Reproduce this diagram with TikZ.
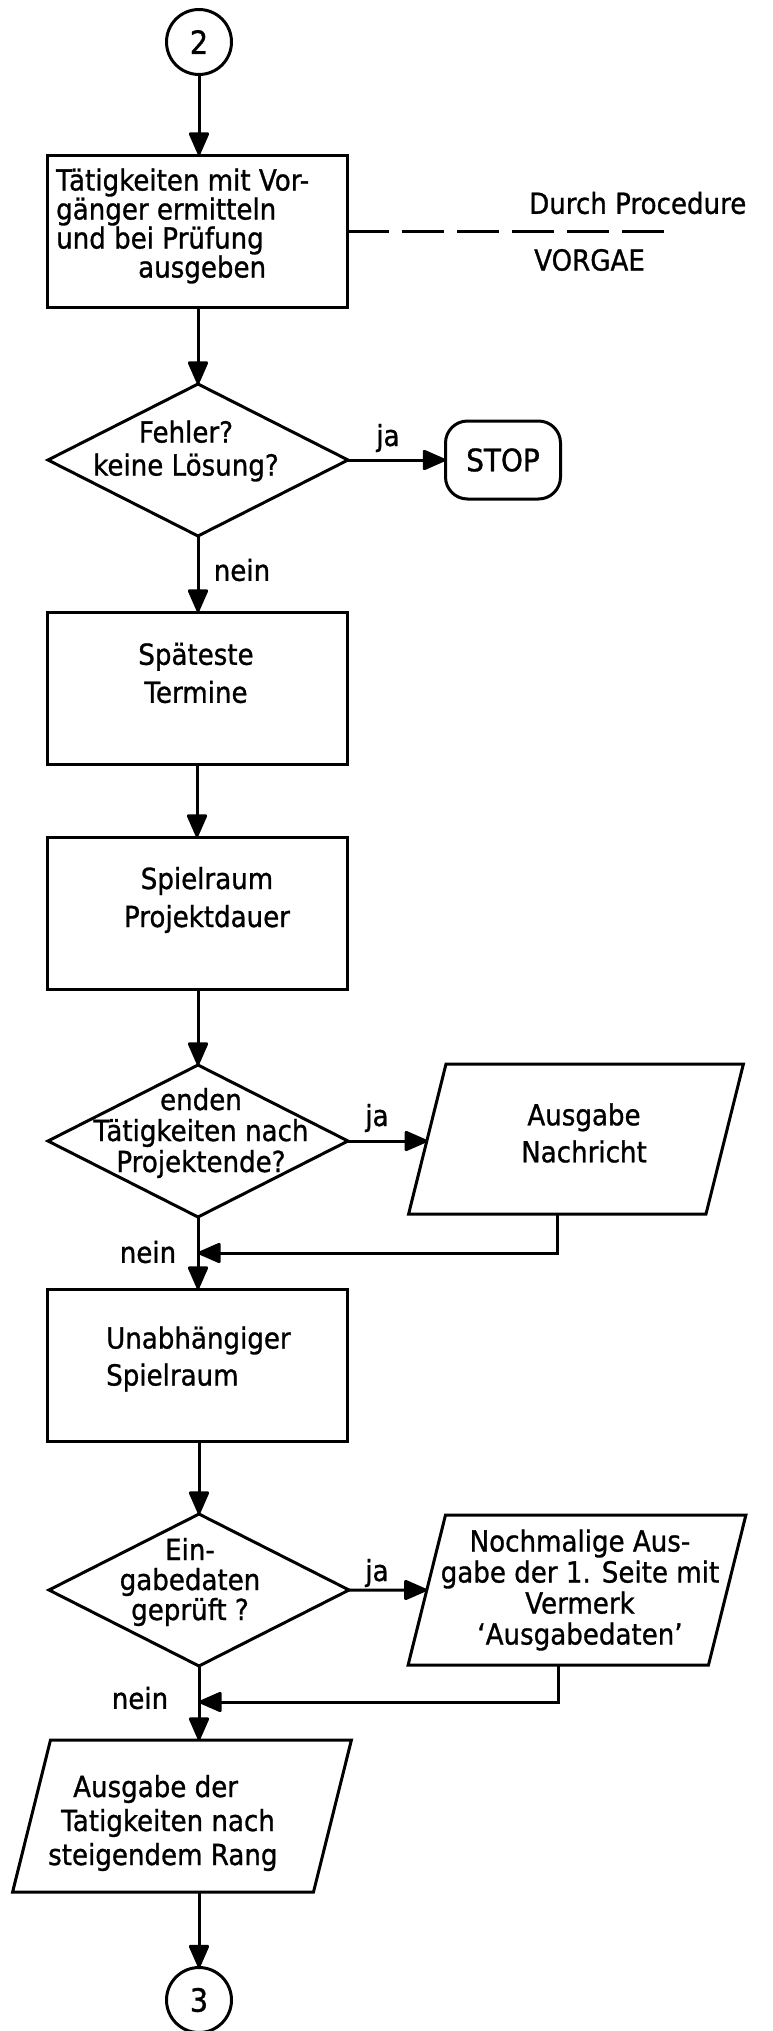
\documentclass[tikz,border=0pt]{standalone}
\usepackage{fontspec}
\setmainfont{DejaVu Sans}[FakeStretch=0.9,FakeBold=1]
\usetikzlibrary{shapes.geometric,arrows.meta}
\newcommand{\iobody}[2]{\rule{#1}{0pt}\rule{0pt}{#2}}
\tikzset{
  lw/.style={line width=3pt},
  shapebase/.style={draw, lw, inner sep=0pt, outer sep=0pt},
  procbox/.style={shapebase, rectangle, minimum width=300pt, minimum height=152pt},
  decision/.style={shapebase, diamond, minimum width=300pt, minimum height=152pt},
  iobox/.style={shapebase, trapezium, trapezium left angle=76, trapezium right angle=104},
  connector/.style={shapebase, circle, minimum size=65pt, font=\fontsize{32}{32}\selectfont},
  terminal/.style={shapebase, rectangle, rounded corners=22pt, minimum width=115pt, minimum height=78pt, font=\fontsize{31}{31}\selectfont},
  txt/.style={inner sep=0pt, align=center},
  fs/.style={font=\fontsize{29}{#1}\selectfont},
  arr/.style={lw, -{Triangle[length=25pt,width=21pt,round]}},
}
\begin{document}
\begin{tikzpicture}[x=1pt,y=-1pt]
\useasboundingbox (0,0) rectangle (772,2031);

% shapes
\node[connector] (c2) at (199,42) {2};
\node[procbox] (b1) at (197,231) {};
\node[decision] (d1) at (198,460) {};
\node[terminal] (stop) at (503,460) {STOP};
\node[procbox] (b2) at (197,688) {};
\node[procbox] (b3) at (197,913) {};
\node[decision] (d2) at (198,1141) {};
\node[iobox] (p1) at (576,1139) {\iobody{260pt}{150pt}};
\node[procbox] (b4) at (197,1365) {};
\node[decision] (d3) at (199,1590) {};
\node[iobox] (p2) at (577,1590) {\iobody{263pt}{150pt}};
\node[iobox] (p3) at (182,1816) {\iobody{263pt}{152pt}};
\node[connector] (c3) at (199,2000) {3};

% texts inside shapes
\node[txt, fs=29, anchor=west, align=left] (t1) at (56,226)
  {Tätigkeiten mit Vor-\\gänger ermitteln\\und bei Prüfung\\\hspace*{82pt}ausgeben};
\node[txt, fs=38] (t2) at (196,673) {Späteste\\Termine};
\node[txt, fs=38] (t3) at (207,900) {Spielraum\\Projektdauer};
\node[txt, fs=37, anchor=west, align=left] (t4) at (106,1359) {Unabhängiger\\Spielraum};
\node[txt, fs=33] (t5) at (186,451) {Fehler?\\keine Lösung?};
\node[txt, fs=31] (t6) at (201,1133) {enden\\Tätigkeiten nach\\Projektende?};
\node[txt, fs=30] (t7) at (190,1582) {Ein-\\gabedaten\hspace*{40pt}\\geprüft ?};
\node[txt, fs=37] (t8) at (584,1133) {Ausgabe\\Nachricht};
\node[txt, fs=31] (t9) at (580,1590) {Nochmalige Aus-\\gabe der 1. Seite mit\\Vermerk\\‘Ausgabedaten’};
\node[txt, fs=34, anchor=west, align=left] (t10) at (48,1823)
  {\hspace*{25pt}Ausgabe der\\\hspace*{13pt}Tatigkeiten nach\\steigendem Rang};

% side note
\coordinate (dend) at (667,231);
\node[txt, fs=30, anchor=west] (note1) at (529,203) {Durch Procedure};
\node[txt, fs=30, anchor=west] (note2) at (534,260) {VORGAE};

% labels
\node[txt, fs=30] (ja1) at (388,438) {ja};
\node[txt, fs=30] (ja2) at (377,1118) {ja};
\node[txt, fs=30] (ja3) at (377,1573) {ja};
\node[txt, fs=30] (nein1) at (242,570) {nein};
\node[txt, fs=30] (nein2) at (148,1252) {nein};
\node[txt, fs=30] (nein3) at (140,1698) {nein};

% join points
\coordinate (j1) at (198,1253);
\coordinate (j2) at (199,1702);

% connectors
\draw[arr] (c2) -- (c2 |- b1.north);
\draw[lw, dash pattern=on 42pt off 13pt] (b1.east) -- (dend);
\draw[arr] (b1.south -| d1) -- (d1);
\draw[arr] (d1) -- (stop);
\draw[arr] (d1) -- (d1 |- b2.north);
\draw[arr] (b2) -- (b3);
\draw[arr] (b3.south -| d2) -- (d2);
\draw[arr] (d2) -- (p1.west |- d2);
\draw[arr] (d2) -- (d2 |- b4.north);
\draw[arr] (p1.bottom side) |- (j1);
\draw[arr] (b4.south -| d3) -- (d3);
\draw[arr] (d3) -- (p2);
\draw[arr] (d3.south) -- (d3.south |- p3.top side);
\draw[arr] (p2.bottom side) |- (j2);
\draw[arr] (c3 |- p3.bottom side) -- (c3.north);
\end{tikzpicture}
\end{document}
